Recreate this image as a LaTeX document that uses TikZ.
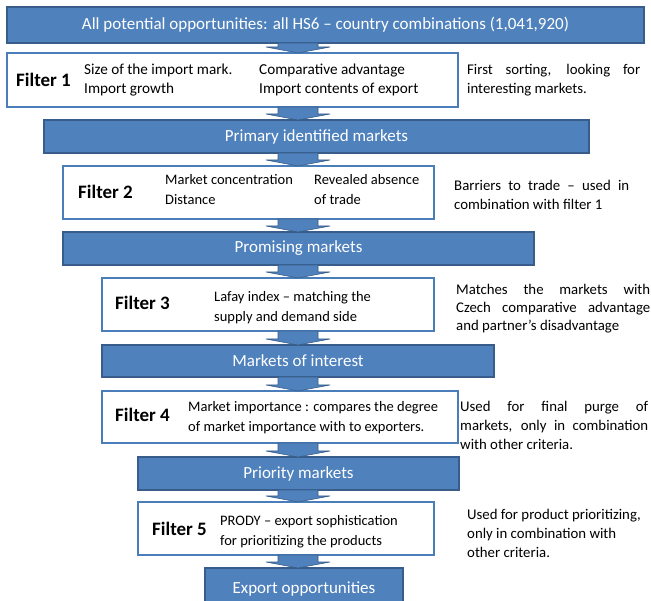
\documentclass[tikz,border=0pt]{standalone}
\usepackage{fontspec}
\setmainfont{Carlito}
\usetikzlibrary{calc}
\definecolor{boxblue}{HTML}{4F81BD}
\definecolor{boxedge}{HTML}{385D8A}
\definecolor{filteredge}{HTML}{4A7EBB}
\newcommand{\flowarrow}[2]{%
  \filldraw[boxblue, draw=boxedge, line width=0.6pt]
    let \p1=(#1.south), \p2=(#2.north) in
    (278pt,\y1) -- (318pt,\y1) -- (318pt,{\y2+6pt}) -- (330pt,{\y2+6pt})
    -- (298pt,\y2) -- (266pt,{\y2+6pt}) -- (278pt,{\y2+6pt}) -- cycle;}
\tikzset{
  bluebox/.style={draw=boxedge, fill=boxblue, line width=1.2pt, inner sep=0pt, outer sep=0pt,
    text=white, font=\fontsize{17}{20}\selectfont},
  filterbox/.style={draw=filteredge, fill=white, line width=1.5pt, inner sep=0pt, outer sep=0pt},
  ftitle/.style={anchor=west, inner sep=0pt, font=\bfseries\fontsize{19}{22}\selectfont},
  ftext/.style={anchor=west, inner sep=0pt, align=left, font=\fontsize{14.5}{20}\selectfont},
  rtext/.style={anchor=west, inner sep=0pt, align=left, font=\fontsize{14.8}{19}\selectfont},
}
\begin{document}
\begin{tikzpicture}[x=1pt,y=-1pt]
\useasboundingbox (0,0) rectangle (651,601);
% blue boxes
\node[bluebox, minimum width=637pt, minimum height=36pt] (b0) at (325.5,25) {All potential opportunities: all HS6 – country combinations (1,041,920)};
\node[bluebox, minimum width=545pt, minimum height=33pt] (b1) at (316.5,136.5) {Primary identified markets};
\node[bluebox, minimum width=471pt, minimum height=33pt] (b2) at (298.5,248.5) {Promising markets};
\node[bluebox, minimum width=392pt, minimum height=32pt] (b3) at (298,361) {Markets of interest};
\node[bluebox, minimum width=321pt, minimum height=33pt] (b4) at (298.5,473.5) {Priority markets};
\node[bluebox, minimum width=198pt, minimum height=38pt, text depth=0pt] (b5) at (304,587) {\raisebox{-1pt}{Export opportunities}};
% filter boxes
\node[filterbox, minimum width=451pt, minimum height=54pt] (f1) at (232.5,80) {};
\node[filterbox, minimum width=371pt, minimum height=53pt] (f2) at (248.5,192.5) {};
\node[filterbox, minimum width=332pt, minimum height=53pt] (f3) at (268,304.5) {};
\node[filterbox, minimum width=356pt, minimum height=52pt] (f4) at (280,417) {};
\node[filterbox, minimum width=296pt, minimum height=53pt] (f5) at (286,528.5) {};
% arrows
\flowarrow{b0}{f1}
\flowarrow{f1}{b1}
\flowarrow{b1}{f2}
\flowarrow{f2}{b2}
\flowarrow{b2}{f3}
\flowarrow{f3}{b3}
\flowarrow{b3}{f4}
\flowarrow{f4}{b4}
\flowarrow{b4}{f5}
\flowarrow{f5}{b5}
% filter 1
\node[ftitle] (t1) at (16,80) {Filter 1};
\node[ftext, font=\fontsize{15.2}{19.5}\selectfont] (t1a) at (84,80) {Size of the import mark.\\Import growth};
\node[ftext, font=\fontsize{15.2}{19.5}\selectfont] (t1b) at (259,80) {Comparative advantage\\Import contents of export};
\node[rtext] (r1) at (467,80) {\makebox[173pt][s]{First sorting, looking for}\\interesting markets.};
% filter 2
\node[ftitle] (t2) at (78,192) {Filter 2};
\node[ftext] (t2a) at (165,190) {Market concentration\\Distance};
\node[ftext] (t2b) at (314,190) {Revealed absence\\of trade};
\node[rtext] (r2) at (454,195) {\makebox[175pt][s]{Barriers to trade – used in}\\combination with filter 1};
% filter 3
\node[ftitle] (t3) at (115,303) {Filter 3};
\node[ftext] (t3a) at (214,308) {Lafay index – matching the\\supply and demand side};
\node[rtext, font=\fontsize{14.8}{18}\selectfont] (r3) at (456,309) {\makebox[194pt][s]{Matches the markets with}\\\makebox[194pt][s]{Czech comparative advantage}\\and partner’s disadvantage};
% filter 4
\node[ftitle] (t4) at (115,415) {Filter 4};
\node[ftext] (t4a) at (188,418) {Market importance : compares the degree\\of market importance with to exporters.};
\node[rtext] (r4) at (460,425) {\makebox[188pt][s]{Used for final purge of}\\\makebox[188pt][s]{markets, only in combination}\\with other criteria.};
% filter 5
\node[ftitle] (t5) at (152,529) {Filter 5};
\node[ftext] (t5a) at (220,532) {PRODY – export sophistication\\for prioritizing the products};
\node[rtext] (r5) at (467,533) {Used for product prioritizing,\\only in combination with\\other criteria.};
\end{tikzpicture}
\end{document}
